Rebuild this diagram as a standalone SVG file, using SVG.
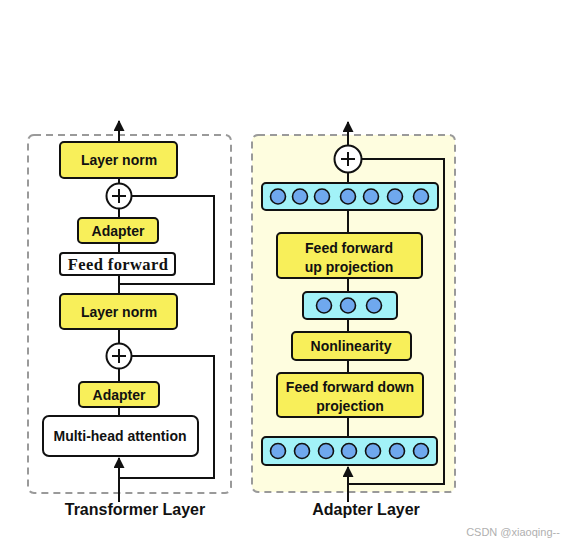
<svg xmlns="http://www.w3.org/2000/svg" width="564" height="544" viewBox="0 0 564 544">
<defs>
<style>
.frame{fill:none;stroke:#9a9a9a;stroke-width:2;stroke-dasharray:7 5}
.y{fill:#F8EF5A;stroke:#111;stroke-width:2}
.w{fill:#fff;stroke:#111;stroke-width:2}
.c{fill:#A2F2F8;stroke:#111;stroke-width:2}
.dot{fill:#6FA8EE;stroke:#111;stroke-width:1.6}
.ln{fill:none;stroke:#111;stroke-width:2}
.t{font-family:"Liberation Sans",Arial,sans-serif;font-weight:bold;font-size:14px;fill:#111;text-anchor:middle}
.ts{font-family:"Liberation Serif","Times New Roman",serif;font-weight:bold;font-size:16.5px;letter-spacing:0.4px;fill:#111;text-anchor:middle}
.cap{font-family:"Liberation Sans",Arial,sans-serif;font-weight:bold;font-size:16px;fill:#111;text-anchor:middle}
</style>
<marker id="ah" viewBox="0 0 10 10" refX="9" refY="5" markerWidth="6" markerHeight="5.5" orient="auto" markerUnits="strokeWidth">
<path d="M0,0 L10,5 L0,10 z" fill="#111"/>
</marker>
</defs>
<rect width="564" height="544" fill="#fff"/>

<!-- frames -->
<g id="transformer-frame"><rect class="frame" x="28" y="135" width="203" height="358" rx="6"/></g>
<g id="adapter-frame"><rect x="252" y="135" width="203" height="357" rx="6" fill="#FEFDDF" stroke="#9a9a9a" stroke-width="2" stroke-dasharray="7 5"/></g>

<!-- connectors -->
<g id="connectors">
<line class="ln" x1="119" y1="142" x2="119" y2="121" marker-end="url(#ah)"/>
<line class="ln" x1="119" y1="178" x2="119" y2="184"/>
<line class="ln" x1="119" y1="209" x2="119" y2="218"/>
<line class="ln" x1="119" y1="243" x2="119" y2="253"/>
<line class="ln" x1="119" y1="275" x2="119" y2="294"/>
<line class="ln" x1="119" y1="329" x2="119" y2="343"/>
<line class="ln" x1="119" y1="369" x2="119" y2="382"/>
<line class="ln" x1="119" y1="407" x2="119" y2="416"/>
<line class="ln" x1="119" y1="502" x2="119" y2="458" marker-end="url(#ah)"/>
<polyline class="ln" points="132,196 214,196 214,284 119,284"/>
<polyline class="ln" points="132,356 214,356 214,478 119,478"/>

<line class="ln" x1="348" y1="145" x2="348" y2="122" marker-end="url(#ah)"/>
<line class="ln" x1="348" y1="173" x2="348" y2="183"/>
<line class="ln" x1="348" y1="210" x2="348" y2="233"/>
<line class="ln" x1="348" y1="278" x2="348" y2="292"/>
<line class="ln" x1="348" y1="319" x2="348" y2="332"/>
<line class="ln" x1="348" y1="360" x2="348" y2="373"/>
<line class="ln" x1="348" y1="417" x2="348" y2="437"/>
<line class="ln" x1="348" y1="502" x2="348" y2="467" marker-end="url(#ah)"/>
<polyline class="ln" points="362,159 444,159 444,484 348,484"/>
</g>

<!-- left nodes -->
<g id="ln-top"><rect class="y" x="60" y="142" width="117" height="36" rx="4"/><text class="t" x="119" y="165">Layer norm</text></g>
<g id="add-top"><circle class="w" cx="119" cy="196" r="12.5"/><path class="ln" d="M112,196 H126 M119,189 V203"/></g>
<g id="adapter-top"><rect class="y" x="78" y="218" width="80" height="25" rx="4"/><text class="t" x="118" y="235.5">Adapter</text></g>
<g id="ff"><rect class="w" x="60" y="253" width="115" height="22" rx="3"/><text class="ts" x="118" y="269.5">Feed forward</text></g>
<g id="ln-mid"><rect class="y" x="60" y="294" width="117" height="35" rx="4"/><text class="t" x="119" y="316.5">Layer norm</text></g>
<g id="add-bot"><circle class="w" cx="119" cy="356" r="12.5"/><path class="ln" d="M112,356 H126 M119,349 V363"/></g>
<g id="adapter-bot"><rect class="y" x="79" y="382" width="80" height="25" rx="4"/><text class="t" x="119" y="399.5">Adapter</text></g>
<g id="mha"><rect class="w" x="43" y="416" width="155" height="40" rx="6"/><text class="t" x="120" y="441" font-size="14.5">Multi-head attention</text></g>
<g id="cap-left"><text class="cap" x="135" y="515">Transformer Layer</text></g>

<!-- right nodes -->
<g id="add-r"><circle class="w" cx="348" cy="159" r="13.5"/><path class="ln" d="M341,159 H355 M348,152 V166"/></g>
<g id="bar-top"><rect class="c" x="262" y="183" width="176" height="27" rx="4"/>
<circle class="dot" cx="278" cy="196.5" r="7.5"/><circle class="dot" cx="300" cy="196.5" r="7.5"/><circle class="dot" cx="322" cy="196.5" r="7.5"/><circle class="dot" cx="348" cy="196.5" r="7.5"/><circle class="dot" cx="371" cy="196.5" r="7.5"/><circle class="dot" cx="395" cy="196.5" r="7.5"/><circle class="dot" cx="421" cy="196.5" r="7.5"/></g>
<g id="ff-up"><rect class="y" x="277" y="233" width="145" height="45" rx="4"/><text class="t" x="349" y="253">Feed forward</text><text class="t" x="349" y="272">up projection</text></g>
<g id="bar-mid"><rect class="c" x="303" y="292" width="94" height="27" rx="4"/>
<circle class="dot" cx="324" cy="305.5" r="7.5"/><circle class="dot" cx="348" cy="305.5" r="7.5"/><circle class="dot" cx="374" cy="305.5" r="7.5"/></g>
<g id="nonlin"><rect class="y" x="292" y="332" width="119" height="28" rx="4"/><text class="t" x="351" y="351">Nonlinearity</text></g>
<g id="ff-down"><rect class="y" x="277" y="373" width="146" height="44" rx="4"/><text class="t" x="350" y="392">Feed forward down</text><text class="t" x="350" y="411">projection</text></g>
<g id="bar-bot"><rect class="c" x="262" y="437" width="175" height="28" rx="4"/>
<circle class="dot" cx="278" cy="451" r="7.5"/><circle class="dot" cx="302" cy="451" r="7.5"/><circle class="dot" cx="326" cy="451" r="7.5"/><circle class="dot" cx="349" cy="451" r="7.5"/><circle class="dot" cx="373" cy="451" r="7.5"/><circle class="dot" cx="397" cy="451" r="7.5"/><circle class="dot" cx="421" cy="451" r="7.5"/></g>
<g id="cap-right"><text class="cap" x="366" y="515">Adapter Layer</text></g>

<text x="513" y="536" font-family="'Liberation Sans',Arial,sans-serif" font-size="11" fill="#b0b0b0" text-anchor="middle">CSDN @xiaoqing--</text>
</svg>
